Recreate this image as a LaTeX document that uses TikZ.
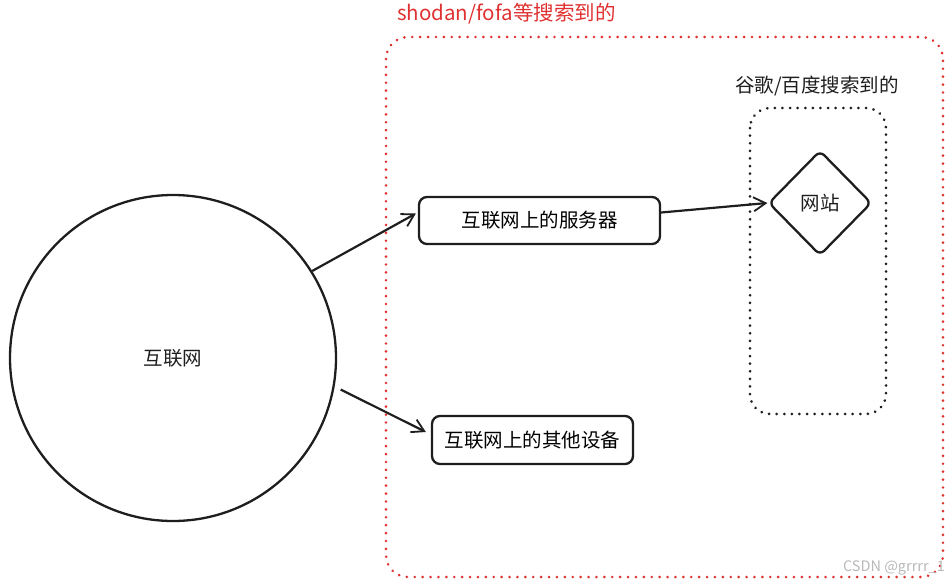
\documentclass[tikz,border=0pt]{standalone}
\usepackage{fontspec}
\setmainfont{Noto Sans CJK SC}
\usetikzlibrary{shapes.geometric,arrows.meta,calc}
\definecolor{redline}{HTML}{E03131}
\definecolor{ink}{HTML}{1E1E1E}
\tikzset{
  sketch/.style={draw=ink, line width=2.3pt},
  box/.style={sketch, rounded corners=8pt, inner sep=0pt, font=\fontsize{19.5}{22}\selectfont},
  conn/.style={draw=ink, line width=2.2pt, -{Straight Barb[length=12pt,width=14pt,line width=1.8pt]}},
  reddots/.style={draw=redline, line width=2.8pt, line cap=round, dash pattern=on 0.1pt off 7.8pt, rounded corners=22pt},
  blackdots/.style={draw=ink, line width=2.9pt, line cap=round, dash pattern=on 0.1pt off 7.5pt, rounded corners=20pt},
  lbl/.style={font=\fontsize{19.5}{22}\selectfont, text=ink, inner sep=0pt}
}
\begin{document}
\begin{tikzpicture}[x=1pt,y=-1pt]
\useasboundingbox (0,0) rectangle (948,584);
% red region
\draw[reddots] (386,37) rectangle (943,577);
\node[lbl, font=\fontsize{20.5}{23}\selectfont, text=redline, anchor=west] (redlbl) at (397,14) {shodan/fofa等搜索到的};
% black region
\draw[blackdots] (750,108) rectangle (886,414);
\node[lbl, anchor=center] (blacklbl) at (817,86) {谷歌/百度搜索到的};
% internet circle
\node[sketch, circle, minimum size=326pt, inner sep=0pt, lbl] (net) at (173,358) {互联网};
% server box
\node[box, minimum width=241pt, minimum height=47pt] (srv) at (539.5,220.5) {互联网上的服务器};
% other devices box
\node[box, minimum width=201pt, minimum height=48pt] (oth) at (532.5,440) {互联网上的其他设备};
% website diamond
\node[sketch, diamond, aspect=1, minimum width=103pt, minimum height=105pt, inner sep=0pt, rounded corners=6pt, lbl] (web) at (820,203) {网站};
% connectors
\draw[conn] (net.32) -- ($(srv.west)+(-2,-7)$);
\draw[conn] ($(srv.east)+(0,-8)$) -- (web.west);
\draw[conn] ($(net.-10)+(6,3)$) -- ($(oth.west)+(-5,-8)$);
% watermark
\node[font=\fontsize{14.5}{16}\selectfont, text=gray!55, anchor=east, inner sep=0pt] (wm) at (945,568) {CSDN @grrrr\_1};
\end{tikzpicture}
\end{document}
